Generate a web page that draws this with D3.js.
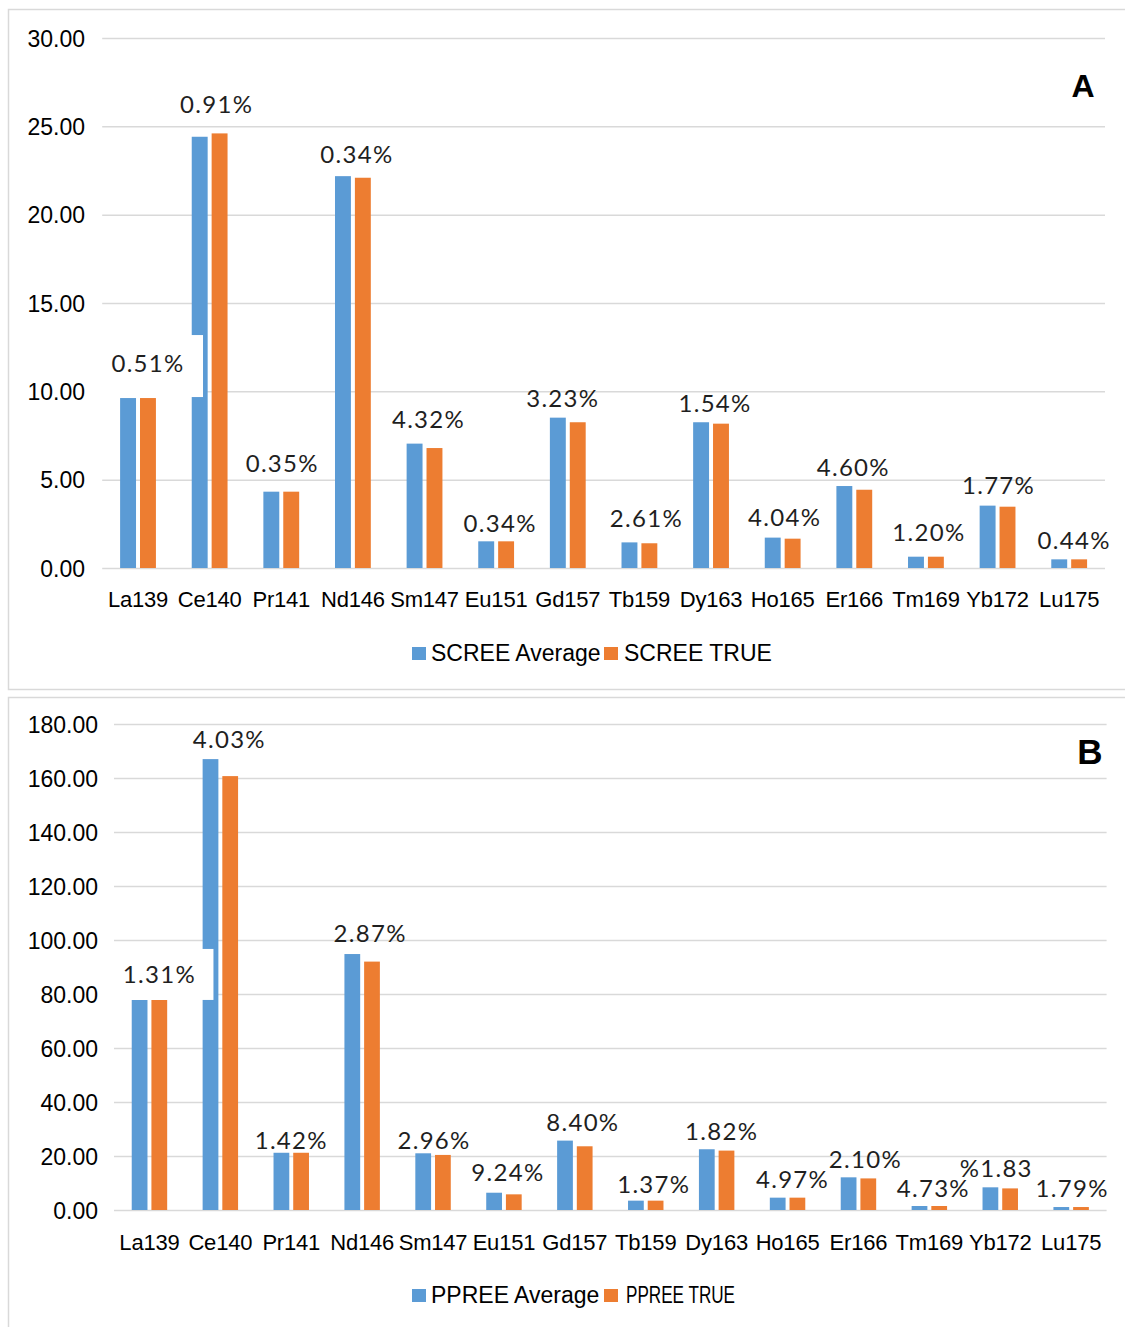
<!DOCTYPE html>
<html>
<head>
<meta charset="utf-8">
<script src="https://cdn.jsdelivr.net/npm/d3@7"></script>
<style>
  body { margin: 0; background: #fff; }
  svg { display: block; }
</style>
</head>
<body>
<svg id="chart" width="1125" height="1327"></svg>
<script>
// data
const elements = ["La139", "Ce140", "Pr141", "Nd146", "Sm147", "Eu151", "Gd157",
                  "Tb159", "Dy163", "Ho165", "Er166", "Tm169", "Yb172", "Lu175"];

const screeAverage = [9.62, 24.41, 4.32, 22.18, 7.04, 1.51, 8.51, 1.45, 8.25, 1.72, 4.64, 0.64, 3.53, 0.49];
const screeTrue    = [9.62, 24.60, 4.32, 22.09, 6.79, 1.51, 8.25, 1.40, 8.17, 1.66, 4.43, 0.64, 3.47, 0.49];
const screeLabels  = ["0.51%", "0.91%", "0.35%", "0.34%", "4.32%", "0.34%", "3.23%",
                      "2.61%", "1.54%", "4.04%", "4.60%", "1.20%", "1.77%", "0.44%"];
const screeTicks   = [0, 5, 10, 15, 20, 25, 30];

const ppreeAverage = [77.8, 167.0, 21.2, 94.8, 21.0, 6.4, 25.7, 3.46, 22.5, 4.57, 12.1, 1.48, 8.4, 1.1];
const ppreeTrue    = [77.8, 160.7, 21.2, 92.0, 20.4, 5.8, 23.6, 3.46, 22.0, 4.57, 11.7, 1.48, 8.0, 1.1];
const ppreeLabels  = ["1.31%", "4.03%", "1.42%", "2.87%", "2.96%", "9.24%", "8.40%",
                      "1.37%", "1.82%", "4.97%", "2.10%", "4.73%", "%1.83", "1.79%"];
const ppreeTicks   = [0, 20, 40, 60, 80, 100, 120, 140, 160, 180];

// label nudges [dx from group centre, gap above taller bar]
const screeNudge = [[10, 26], [7, 20], [1, 20], [4, 13], [4, 16], [4, 9], [-5, 11],
                    [7, 15], [4, 10], [2, 12], [-1, 10], [3, 16], [1, 12], [5, 10]];
const ppreeNudge = [[10, 17], [9, 11], [0, 4], [8, 12], [1, 4], [4, 12], [8, 10],
                    [8, 8], [5, 9], [5, 10], [7, 9], [4, 9], [-4, 10], [1, 10]];

const blueColor = "#5b9bd5";
const orangeColor = "#ed7d31";
const gridColor = "#d9d9d9";
const axisFont = "'Liberation Sans', Arial, sans-serif";
const labelFont = "Lato, 'Open Sans', sans-serif";

let svg = d3.select("#chart");

drawPanel(svg, {
    frame: [8.5, 9.5, 1130, 680],
    left: 102.2, right: 1105, top: 38, bottom: 568,
    ticks: screeTicks, avg: screeAverage, tru: screeTrue,
    labels: screeLabels, nudge: screeNudge,
    box: {dl: 48, dr: 55, dt: 37, db: 25},
    catY: 607, tickRight: 85,
    legendY: 653, legendNames: ["SCREE Average", "SCREE TRUE"], trueLen: null,
    letter: "A", letterX: 1083, letterY: 97, letterSize: 32
});

drawPanel(svg, {
    frame: [8.5, 697.5, 1130, 640],
    left: 114, right: 1106.6, top: 724, bottom: 1210,
    ticks: ppreeTicks, avg: ppreeAverage, tru: ppreeTrue,
    labels: ppreeLabels, nudge: ppreeNudge,
    box: {dl: 48, dr: 54, dt: 34, db: 17},
    catY: 1250, tickRight: 98,
    legendY: 1295, legendNames: ["PPREE Average", "PPREE TRUE"], trueLen: 109,
    letter: "B", letterX: 1090, letterY: 764, letterSize: 35
});

function drawPanel(svg, o) {
    let g = svg.append("g");

    g.append("rect")
        .attr("x", o.frame[0]).attr("y", o.frame[1])
        .attr("width", o.frame[2]).attr("height", o.frame[3])
        .style("fill", "none")
        .style("stroke", gridColor)
        .style("stroke-width", 1.5);

    let x = d3.scaleBand()
        .domain(elements)
        .range([o.left, o.right])
        .paddingInner(0.5)
        .paddingOuter(0.25);
    let x1 = d3.scaleBand()
        .domain(["avg", "tru"])
        .range([0, x.bandwidth()])
        .paddingInner(0.2);
    let y = d3.scaleLinear()
        .domain([0, d3.max(o.ticks)])
        .range([o.bottom, o.top]);

    // gridlines + y labels
    g.append("g")
        .attr("transform", "translate(" + o.left + ",0)")
        .call(d3.axisLeft(y).tickValues(o.ticks).tickSize(-(o.right - o.left)).tickFormat(d3.format(".2f")))
        .call(a => a.select(".domain").remove())
        .call(a => a.selectAll("line").style("stroke", gridColor).style("stroke-width", 1.5))
        .call(a => a.selectAll("text")
            .attr("x", o.tickRight - o.left)
            .attr("dy", "0.35em")
            .style("font-family", axisFont)
            .style("font-size", "23px")
            .style("fill", "#000"));

    // category labels
    g.append("g")
        .attr("transform", "translate(0," + o.bottom + ")")
        .call(d3.axisBottom(x).tickSize(0))
        .call(a => a.select(".domain").remove())
        .call(a => a.selectAll("text")
            .attr("y", o.catY - o.bottom)
            .attr("dy", 0)
            .style("font-family", axisFont)
            .style("font-size", "22px")
            .style("letter-spacing", "-0.2px")
            .style("fill", "#000"));

    let rows = elements.map((e, i) => ({name: e, avg: o.avg[i], tru: o.tru[i], label: o.labels[i], nudge: o.nudge[i]}));

    let groups = g.selectAll(".grp")
        .data(rows)
        .enter()
        .append("g")
        .attr("transform", d => "translate(" + x(d.name) + ",0)");

    groups.selectAll("rect")
        .data(d => [{k: "avg", v: d.avg}, {k: "tru", v: d.tru}])
        .enter()
        .append("rect")
        .attr("x", d => x1(d.k))
        .attr("width", x1.bandwidth())
        .attr("y", d => y(d.v))
        .attr("height", d => y(0) - y(d.v))
        .style("fill", d => d.k === "avg" ? blueColor : orangeColor);

    // data labels
    let labelX = d => x(d.name) + x.bandwidth() / 2 + d.nudge[0];
    let labelY = d => y(Math.max(d.avg, d.tru)) - d.nudge[1];

    // white box behind first label (covers part of neighbouring bar)
    let first = rows[0];
    g.append("rect")
        .attr("x", labelX(first) - o.box.dl)
        .attr("y", labelY(first) - o.box.dt)
        .attr("width", o.box.dl + o.box.dr)
        .attr("height", o.box.dt + o.box.db)
        .style("fill", "#fff");

    g.selectAll(".dlabel")
        .data(rows)
        .enter()
        .append("text")
        .attr("x", labelX)
        .attr("y", labelY)
        .attr("text-anchor", "middle")
        .text(d => d.label)
        .style("font-family", labelFont)
        .style("font-size", "24px")
        .style("letter-spacing", "1.3px")
        .style("fill", "#1f1f1f");

    // legend
    let lg = g.append("g");
    lg.append("rect").attr("x", 412).attr("y", o.legendY - 6).attr("width", 14).attr("height", 13).style("fill", blueColor);
    lg.append("text").attr("x", 431).attr("y", o.legendY + 8)
        .text(o.legendNames[0])
        .style("font-family", axisFont).style("font-size", "23px").style("fill", "#000");
    lg.append("rect").attr("x", 604).attr("y", o.legendY - 6).attr("width", 14).attr("height", 13).style("fill", orangeColor);
    let t2 = lg.append("text").attr("x", o.trueLen ? 626 : 624).attr("y", o.legendY + 8)
        .text(o.legendNames[1])
        .style("font-family", o.trueLen ? "'Liberation Sans Narrow', " + axisFont : axisFont)
        .style("font-size", "23px").style("fill", "#000");
    if (o.trueLen) t2.attr("textLength", o.trueLen).attr("lengthAdjust", "spacingAndGlyphs");

    g.append("text")
        .attr("x", o.letterX).attr("y", o.letterY)
        .attr("text-anchor", "middle")
        .text(o.letter)
        .style("font-family", axisFont)
        .style("font-weight", "bold")
        .style("font-size", o.letterSize + "px")
        .style("fill", "#000");
}
</script>
</body>
</html>
